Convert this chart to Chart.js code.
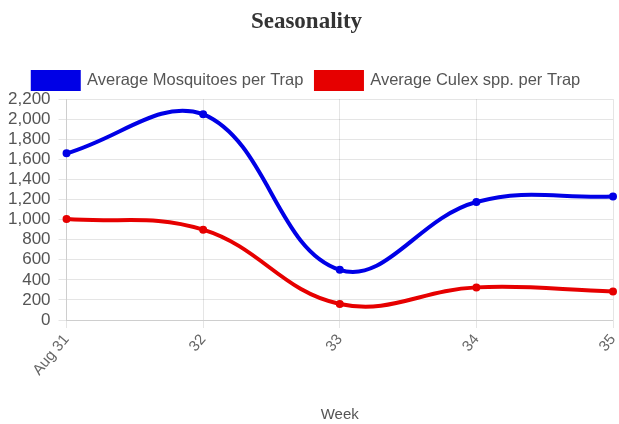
<!DOCTYPE html>
<html>
<head>
<meta charset="utf-8">
<script src="https://cdn.jsdelivr.net/npm/chart.js@4"></script>
<style>
  html, body { margin: 0; padding: 0; background: #fff; }
  #wrap { width: 619px; height: 424px; }
</style>
</head>
<body>
<div id="wrap"><canvas id="seasonChart"></canvas></div>
<script>
// weekly data
const weeks = ['Aug 31', '32', '33', '34', '35'];
const avgMosquitoes = [1660, 2050, 500, 1175, 1230];
const avgCulex = [1005, 900, 160, 325, 285];
const yTicks = [0, 200, 400, 600, 800, 1000, 1200, 1400, 1600, 1800, 2000, 2200];

Chart.defaults.font.family = "'Liberation Sans', Arial, sans-serif";
Chart.defaults.color = '#555';

const ctx = document.getElementById('seasonChart').getContext('2d');

const seasonChart = new Chart(ctx, {
    type: 'line',
    data: {
        labels: weeks,
        datasets: [{
            label: 'Average Mosquitoes per Trap',
            data: avgMosquitoes,
            borderColor: '#0000e6',
            backgroundColor: '#0000e6',
            borderWidth: 4,
            tension: 0.4,
            fill: false,
            pointRadius: 3,
            pointBorderWidth: 2,
            pointBackgroundColor: '#0000e6',
            pointBorderColor: '#0000e6'
        }, {
            label: 'Average Culex spp. per Trap',
            data: avgCulex,
            borderColor: '#e60000',
            backgroundColor: '#e60000',
            borderWidth: 4,
            tension: 0.4,
            fill: false,
            pointRadius: 3,
            pointBorderWidth: 2,
            pointBackgroundColor: '#e60000',
            pointBorderColor: '#e60000'
        }]
    },
    options: {
        responsive: true,
        maintainAspectRatio: false,
        animation: false,
        layout: { padding: { left: 0, right: 6, top: 0, bottom: 0 } },
        plugins: {
            title: {
                display: true,
                text: 'Seasonality',
                color: '#333',
                font: { family: "'Liberation Serif', 'Times New Roman', serif", size: 23, weight: 'bold' },
                padding: { top: 8, bottom: 24 }
            },
            legend: {
                display: true,
                labels: {
                    boxWidth: 46,
                    boxHeight: 17,
                    color: '#555',
                    font: { size: 16.5 },
                    padding: 12.5
                }
            },
            tooltip: { enabled: false }
        },
        scales: {
            x: {
                title: {
                    display: true,
                    text: 'Week',
                    color: '#555',
                    font: { size: 15 },
                    padding: { top: 24, bottom: 0 }
                },
                ticks: {
                    color: '#666',
                    font: { size: 15 },
                    maxRotation: 50,
                    minRotation: 50
                },
                grid: { color: 'rgba(0,0,0,0.1)' },
                // the rotated last label sits left of its tick, so no right gap needed
                afterFit: function(scale) {
                    scale.paddingRight = 0;
                }
            },
            y: {
                min: 0,
                max: 2200,
                afterBuildTicks: function(axis) {
                    axis.ticks = yTicks.map(v => ({ value: v }));
                },
                ticks: {
                    color: '#555',
                    font: { size: 17 },
                    padding: 8,
                    autoSkip: false
                },
                grid: { color: 'rgba(0,0,0,0.1)' }
            }
        }
    }
});
</script>
</body>
</html>
